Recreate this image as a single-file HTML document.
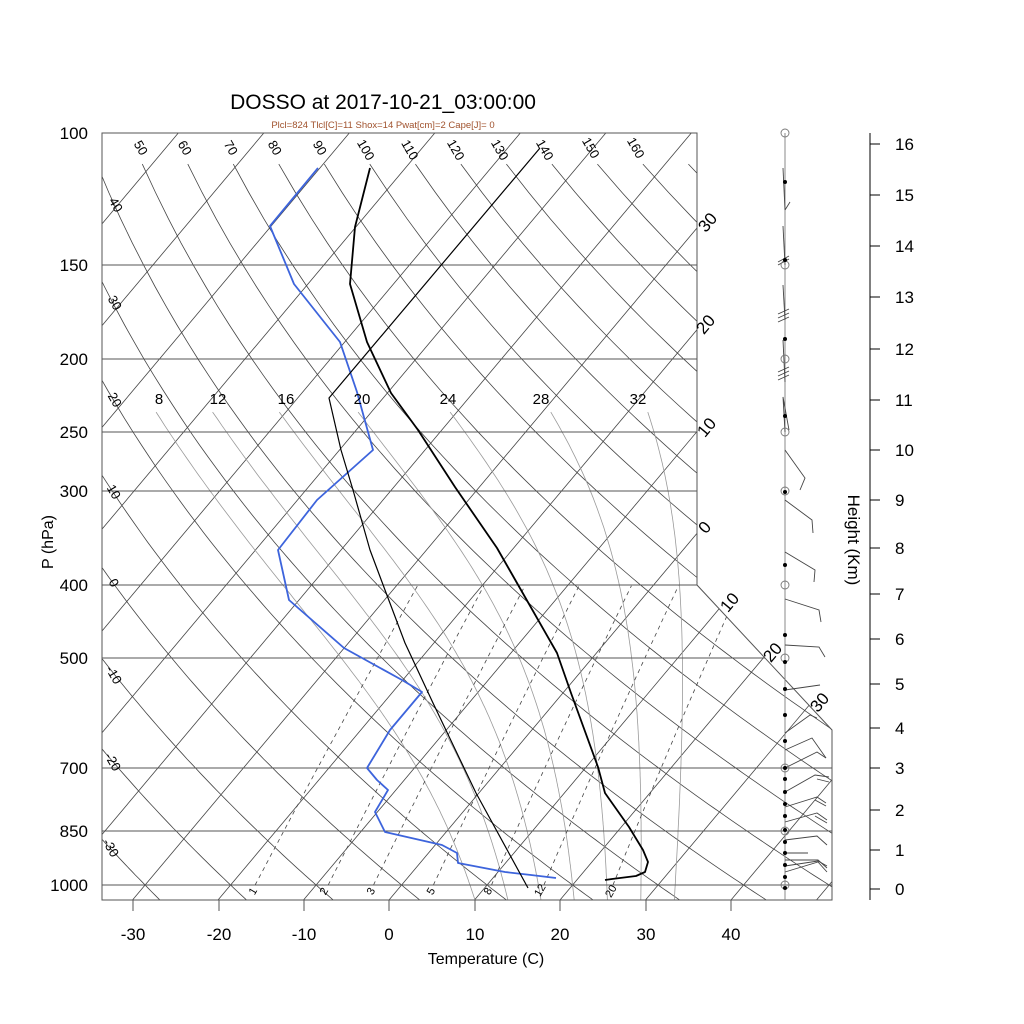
<!DOCTYPE html>
<html><head><meta charset="utf-8">
<style>
html,body{margin:0;padding:0;background:#fff;}
svg{display:block;font-family:"Liberation Sans",Arial,sans-serif;}
</style></head>
<body>
<svg id="s" width="1024" height="1024" viewBox="0 0 1024 1024" xmlns="http://www.w3.org/2000/svg">
<defs>
<clipPath id="box"><polygon points="102,133 697,133 697,585 832,730 832,900 102,900"/></clipPath>
</defs>
<rect width="1024" height="1024" fill="#fff"/>
<g id="grid" clip-path="url(#box)"></g>
<g id="hl" stroke="#555" stroke-width="0.9" fill="none">
<line x1="102" y1="265" x2="697" y2="265"/>
<line x1="102" y1="359" x2="697" y2="359"/>
<line x1="102" y1="432" x2="697" y2="432"/>
<line x1="102" y1="491" x2="697" y2="491"/>
<line x1="102" y1="585" x2="697" y2="585"/>
<line x1="102" y1="658" x2="765" y2="658"/>
<line x1="102" y1="768" x2="832" y2="768"/>
<line x1="102" y1="831" x2="832" y2="831"/>
<line x1="102" y1="885" x2="832" y2="885"/>
</g>
<polygon points="102,133 697,133 697,585 832,730 832,900 102,900" fill="none" stroke="#555" stroke-width="1"/>
<g stroke="#555" stroke-width="1">
<line x1="133" y1="900" x2="133" y2="911"/><line x1="219" y1="900" x2="219" y2="911"/>
<line x1="304" y1="900" x2="304" y2="911"/><line x1="389" y1="900" x2="389" y2="911"/>
<line x1="475" y1="900" x2="475" y2="911"/><line x1="560" y1="900" x2="560" y2="911"/>
<line x1="646" y1="900" x2="646" y2="911"/><line x1="731" y1="900" x2="731" y2="911"/>
</g>
<g fill="none" stroke-linejoin="round">
<polyline stroke="#3d64dc" stroke-width="1.8" points="318,168 270,226 294,284 340,342 357,392 373,450 345,475 317,500 278,550 289,600 344,648 402,680 422,692 390,730 367,768 377,780 388,790 375,812 385,832 442,845 457,853 458,863 505,872 531,875 556,878"/>
<polyline stroke="#000" stroke-width="1.8" points="370,168 355,227 350,284 367,342 391,393 418,430 455,487 497,548 525,597 557,653 571,693 598,767 605,793 629,827 643,850 648,862 645,872 636,876 612,879 605,880"/>
<polyline stroke="#000" stroke-width="1.2" points="540,148 329,398 341,450 353,490 370,550 385,590 405,643 433,703 476,793 528,888"/>
</g>
<g stroke="#888" stroke-width="1" fill="none">
<line x1="785" y1="133" x2="785" y2="900"/>
</g>
<g stroke="#444" stroke-width="0.9" fill="none">
<polyline points="785,210 783,168"/><polyline points="785,210 790,202"/>
<polyline points="785,265 783,226"/><polyline points="778,262 789,256"/><polyline points="778,265 789,259"/>
<polyline points="785,320 783,285"/><polyline points="778,314 789,309"/><polyline points="778,318 789,313"/><polyline points="778,322 789,317"/>
<polyline points="785,382 783,340"/><polyline points="778,372 789,367"/><polyline points="778,376 789,371"/><polyline points="778,380 789,375"/>
<polyline points="785,432 783,397 789,430"/>
<polyline points="785,450 805,478 800,490"/>
<polyline points="785,500 812,520 813,533"/>
<polyline points="785,552 815,570 814,582"/>
<polyline points="785,599 819,610 821,622"/>
<polyline points="785,645 819,647 825,657"/>
<polyline points="785,690 820,685"/>
<polyline points="785,733 810,715 817,718"/>
<polyline points="785,750 812,738 826,758"/>
<polyline points="785,768 817,752 826,758"/>
<polyline points="785,792 815,775 829,777"/><polyline points="817,779 829,782"/>
<polyline points="785,807 817,797 826,803"/><polyline points="815,800 826,806"/>
<polyline points="785,822 817,813 827,820"/><polyline points="815,816 827,823"/>
<polyline points="785,840 817,836 827,845"/>
<polyline points="785,853 808,853"/>
<polyline points="785,860 818,860 827,868"/>
<polyline points="785,866 818,861 827,866"/>
<polyline points="785,872 818,862 827,872"/>
</g>
<g fill="none" stroke="#777" stroke-width="0.9">
<circle cx="785" cy="133" r="4"/><circle cx="785" cy="265" r="4"/><circle cx="785" cy="359" r="4"/>
<circle cx="785" cy="432" r="4"/><circle cx="785" cy="491" r="4"/><circle cx="785" cy="585" r="4"/>
<circle cx="785" cy="658" r="4"/><circle cx="785" cy="768" r="4"/><circle cx="785" cy="831" r="4"/><circle cx="785" cy="885" r="4"/>
</g>
<g fill="#000">
<circle cx="785" cy="182" r="2"/><circle cx="785" cy="260" r="2"/><circle cx="785" cy="339" r="2"/>
<circle cx="785" cy="416" r="2"/><circle cx="785" cy="492" r="2"/><circle cx="785" cy="565" r="2"/>
<circle cx="785" cy="635" r="2"/><circle cx="785" cy="662" r="2"/><circle cx="785" cy="689" r="2"/>
<circle cx="785" cy="715" r="2"/><circle cx="785" cy="741" r="2"/><circle cx="785" cy="768" r="2"/>
<circle cx="785" cy="779" r="2"/><circle cx="785" cy="792" r="2"/><circle cx="785" cy="804" r="2"/>
<circle cx="785" cy="816" r="2"/><circle cx="785" cy="830" r="2"/><circle cx="785" cy="842" r="2"/>
<circle cx="785" cy="853" r="2"/><circle cx="785" cy="865" r="2"/><circle cx="785" cy="877" r="2"/><circle cx="785" cy="888" r="2"/>
</g>
<g stroke="#000" stroke-width="1">
<line x1="870" y1="133" x2="870" y2="900"/>
<line x1="870" y1="144" x2="880" y2="144"/><line x1="870" y1="195" x2="880" y2="195"/>
<line x1="870" y1="246" x2="880" y2="246"/><line x1="870" y1="297" x2="880" y2="297"/>
<line x1="870" y1="349" x2="880" y2="349"/><line x1="870" y1="400" x2="880" y2="400"/>
<line x1="870" y1="450" x2="880" y2="450"/><line x1="870" y1="500" x2="880" y2="500"/>
<line x1="870" y1="548" x2="880" y2="548"/><line x1="870" y1="594" x2="880" y2="594"/>
<line x1="870" y1="639" x2="880" y2="639"/><line x1="870" y1="684" x2="880" y2="684"/>
<line x1="870" y1="728" x2="880" y2="728"/><line x1="870" y1="768" x2="880" y2="768"/>
<line x1="870" y1="810" x2="880" y2="810"/><line x1="870" y1="850" x2="880" y2="850"/>
<line x1="870" y1="889" x2="880" y2="889"/>
</g>
<g font-size="17" fill="#000">
<text x="895" y="150">16</text><text x="895" y="201">15</text><text x="895" y="252">14</text>
<text x="895" y="303">13</text><text x="895" y="355">12</text><text x="895" y="406">11</text>
<text x="895" y="456">10</text><text x="895" y="506">9</text><text x="895" y="554">8</text>
<text x="895" y="600">7</text><text x="895" y="645">6</text><text x="895" y="690">5</text>
<text x="895" y="734">4</text><text x="895" y="774">3</text><text x="895" y="816">2</text>
<text x="895" y="856">1</text><text x="895" y="895">0</text>
</g>
<text font-size="17" transform="translate(848,540) rotate(90)" text-anchor="middle">Height (Km)</text>
<g font-size="17" text-anchor="end">
<text x="88" y="139">100</text><text x="88" y="271">150</text><text x="88" y="365">200</text>
<text x="88" y="438">250</text><text x="88" y="497">300</text><text x="88" y="591">400</text>
<text x="88" y="664">500</text><text x="88" y="774">700</text><text x="88" y="837">850</text>
<text x="88" y="891">1000</text>
</g>
<text font-size="16" transform="translate(53,542) rotate(-90)" text-anchor="middle">P (hPa)</text>
<g font-size="17" text-anchor="middle">
<text x="133" y="940">-30</text><text x="219" y="940">-20</text><text x="304" y="940">-10</text>
<text x="389" y="940">0</text><text x="475" y="940">10</text><text x="560" y="940">20</text>
<text x="646" y="940">30</text><text x="731" y="940">40</text>
</g>
<text x="486" y="964" font-size="16" text-anchor="middle">Temperature (C)</text>
<text x="383" y="109" font-size="21" text-anchor="middle">DOSSO at 2017-10-21_03:00:00</text>
<text x="383" y="128" font-size="9.5" fill="#a0522d" text-anchor="middle">Plcl=824 Tlcl[C]=11 Shox=14 Pwat[cm]=2 Cape[J]= 0</text>
<g font-size="15" text-anchor="middle">
<text x="159" y="404">8</text><text x="218" y="404">12</text><text x="286" y="404">16</text>
<text x="362" y="404">20</text><text x="448" y="404">24</text><text x="541" y="404">28</text><text x="638" y="404">32</text>
</g>
<g font-size="13" text-anchor="middle">
<text transform="translate(137,150) rotate(60)">50</text><text transform="translate(181,150) rotate(60)">60</text>
<text transform="translate(227,150) rotate(60)">70</text><text transform="translate(271,150) rotate(60)">80</text>
<text transform="translate(316,150) rotate(60)">90</text><text transform="translate(362,152) rotate(60)">100</text>
<text transform="translate(406,152) rotate(60)">110</text><text transform="translate(452,152) rotate(60)">120</text>
<text transform="translate(496,152) rotate(60)">130</text><text transform="translate(541,152) rotate(60)">140</text>
<text transform="translate(587,150) rotate(60)">150</text><text transform="translate(632,150) rotate(60)">160</text>
<text transform="translate(112,207) rotate(60)">40</text><text transform="translate(111,305) rotate(60)">30</text>
<text transform="translate(111,402) rotate(60)">20</text><text transform="translate(110,494) rotate(60)">10</text>
<text transform="translate(110,585) rotate(60)">0</text><text transform="translate(110,677) rotate(60)">-10</text>
<text transform="translate(109,764) rotate(60)">-20</text><text transform="translate(107,850) rotate(60)">-30</text>
</g>
<g font-size="17" text-anchor="middle">
<text transform="translate(712,226) rotate(-50)">30</text><text transform="translate(710,328) rotate(-50)">20</text>
<text transform="translate(711,431) rotate(-50)">10</text><text transform="translate(709,531) rotate(-50)">0</text>
<text transform="translate(734,606) rotate(-50)">10</text><text transform="translate(777,656) rotate(-50)">20</text>
<text transform="translate(824,706) rotate(-50)">30</text>
</g>
<g font-size="11" text-anchor="middle">
<text transform="translate(256,893) rotate(-60)">1</text><text transform="translate(327,893) rotate(-60)">2</text>
<text transform="translate(374,893) rotate(-60)">3</text><text transform="translate(434,893) rotate(-60)">5</text>
<text transform="translate(491,893) rotate(-60)">8</text><text transform="translate(543,892) rotate(-60)">12</text>
<text transform="translate(614,893) rotate(-60)">20</text>
</g>
<script>
(function(){
var X0=389,A=8.55,S=0.84,Y0=133,K=326.6;
function yp(p){return Y0+K*Math.log(p/100);}
function xt(T,y){return X0+A*T+S*(900-y);}
var g=document.getElementById('grid'),NS='http://www.w3.org/2000/svg';
function pl(pts,stroke,w,dash){var e=document.createElementNS(NS,'polyline');
e.setAttribute('points',pts.map(function(q){return q[0].toFixed(1)+','+q[1].toFixed(1);}).join(' '));
e.setAttribute('fill','none');e.setAttribute('stroke',stroke);e.setAttribute('stroke-width',w);
if(dash)e.setAttribute('stroke-dasharray',dash);g.appendChild(e);}
for(var T=-150;T<=60;T+=10){pl([[xt(T,900),900],[xt(T,133),133]],'#444',0.8);}
for(var th=-30;th<=200;th+=10){var pts=[];var pt=th>=50?110:100;
for(var p=1050;p>=pt;p-=10){var Tk=(th+273.15)*Math.pow(p/1000,0.2857)-273.15;var y=yp(p);pts.push([xt(Tk,y),y]);}
pl(pts,'#444',0.8);}
function es(Tc){return 6.112*Math.exp(17.67*Tc/(Tc+243.5));}
function dTdp(T,p){var Tc=T-273.15,e=es(Tc),rs=0.622*e/(p-e),Rd=287,cp=1004,Lv=2.5e6;
return (Rd*T+Lv*rs)/(p*(cp+Lv*Lv*rs*0.622/(Rd*T*T)));}
[8,12,16,20,24,28,32].forEach(function(tw){var T=tw+273.15;
var Td=T;for(var p=1000;p<1047;p+=1){Td+=dTdp(Td,p);}
var Tn=T;var arr=[];
for(var p=1000;p>=231;p-=1){if(p%5==0){var y=yp(p);arr.push([xt(Tn-273.15,y),y]);}Tn-=dTdp(Tn,p);}
arr.unshift([xt(Td-273.15,900),900]);
pl(arr,'#9a9a9a',0.8);});
[1,2,3,5,8,12,20].forEach(function(w){var pts=[];
for(var p=1000;p>=400;p-=10){var e=w*p/(622+w),l=Math.log(e/6.112),Td=243.5*l/(17.67-l),y=yp(p);pts.push([xt(Td,y),y]);}
pl(pts,'#444',0.8,'4,4');});
})();
</script>
</svg>
</body></html>
